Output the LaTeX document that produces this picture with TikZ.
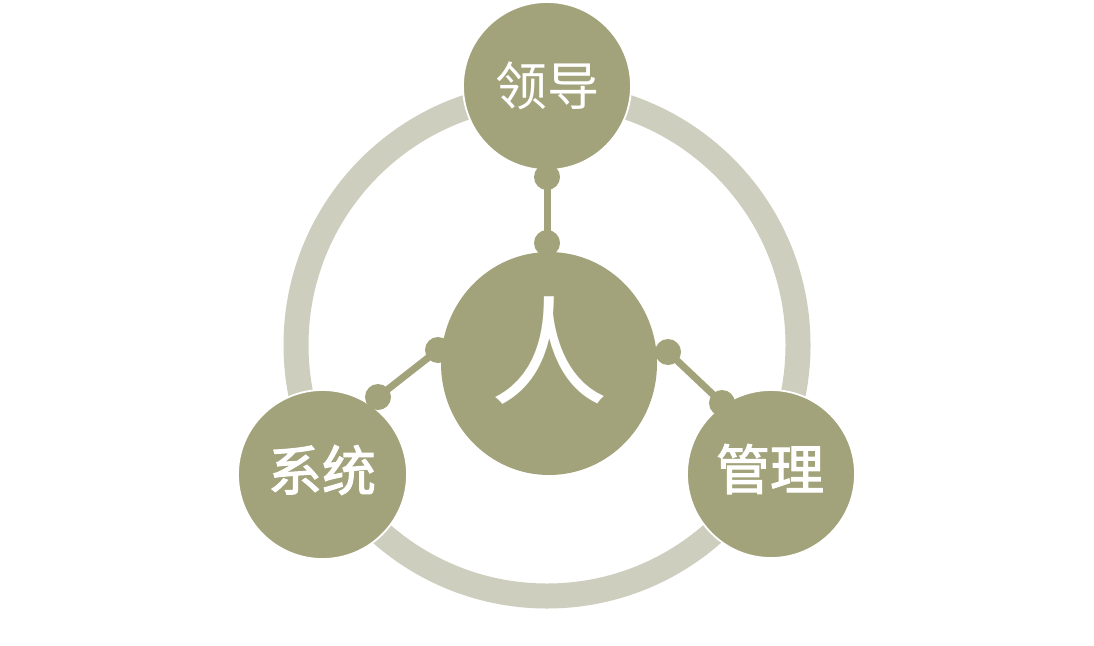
\documentclass[tikz,border=0pt]{standalone}
\usepackage{fontspec}
\usetikzlibrary{shapes.geometric}
\newfontfamily\cjk{Noto Sans CJK SC}
\newfontfamily\cjkb[FakeBold=2]{Noto Sans CJK SC}
\definecolor{olive}{HTML}{A3A37B}
\definecolor{ringc}{HTML}{CDCEBE}
\begin{document}
\begin{tikzpicture}[x=1pt,y=-1pt,
  ball/.style={circle,fill=olive,draw=white,line width=1.8pt,inner sep=0pt,minimum size=#1,text=white},
  dot/.style={circle,fill=olive,inner sep=0pt,minimum size=26pt},
  link/.style={draw=olive,line width=7pt},
  lab/.style={text=white,inner sep=0pt}]
\useasboundingbox (0,0) rectangle (1094,645);
\fill[white] (0,0) rectangle (1094,645);
% ring
\draw[ringc,line width=25pt] (547,345) circle[radius=251];
% outer circles
\node[ball=168pt] (top) at (547,86) {};
\node[ball=169pt] (left) at (322.5,474.5) {};
\node[ball=168pt] (right) at (771,474) {};
% center
\node[ellipse,fill=olive,inner sep=0pt,minimum width=216pt,minimum height=223pt] (mid) at (549,363.5) {};
% dots
\node[dot] (t1) at (547,177) {};
\node[dot] (t2) at (547,243) {};
\node[dot] (l1) at (378,397) {};
\node[dot] (l2) at (438,350) {};
\node[dot] (r1) at (722,403) {};
\node[dot] (r2) at (668,352) {};
\draw[link] (t1.center) -- (t2.center);
\draw[link] (l1.center) -- (l2.center);
\draw[link] (r1.center) -- (r2.center);
% labels
\node[lab] (ltop) at (547,86) {\cjk\fontsize{52}{60}\selectfont 领导};
\node[lab] (lleft) at (322,470) {\cjkb\fontsize{54}{62}\selectfont 系统};
\node[lab] (lright) at (770,469) {\cjkb\fontsize{54}{62}\selectfont 管理};
\node[lab] (lmid) at (549,351) {\cjk\fontsize{118}{130}\selectfont 人};
\end{tikzpicture}
\end{document}
